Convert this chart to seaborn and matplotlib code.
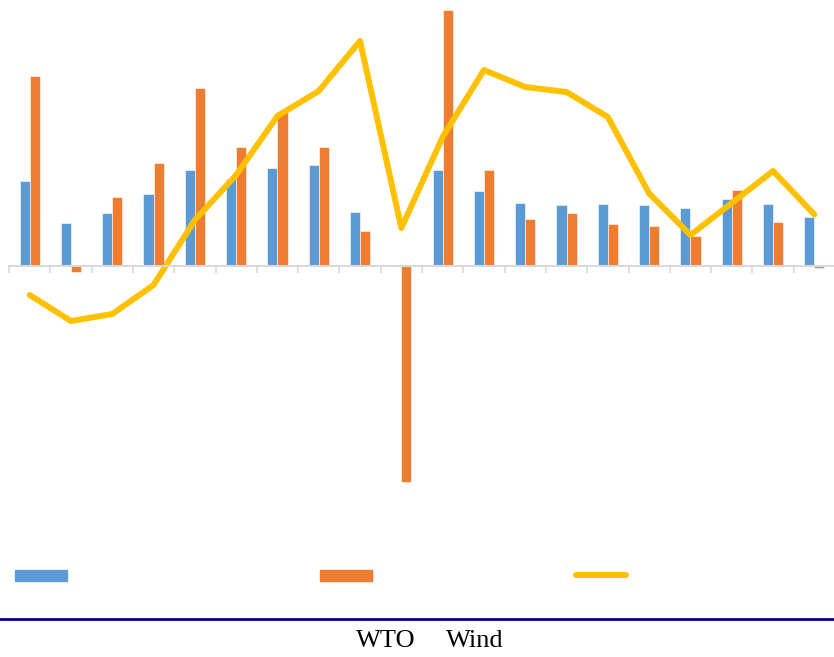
import numpy as np
import pandas as pd
import matplotlib
matplotlib.use("Agg")
import matplotlib.pyplot as plt
from matplotlib.patches import Rectangle
from matplotlib.lines import Line2D
import seaborn as sns

# data (units are arbitrary, baseline = 0)
categories = [str(i) for i in range(1, 21)]
blue_vals = [85, 43.5, 53.5, 72, 96.5, 87, 98.5, 101, 54, 0,
             96, 75, 63, 61, 62.5, 61, 58, 67.5, 62, 49]
orange_vals = [190, -6, 69, 103, 178, 119, 154.5, 119, 35, -215.5,
               256.5, 96, 47.5, 53, 42, 40.5, 30, 76, 44, -2]
line_vals = [-29, -55, -48, -19, 46, 91, 150, 175, 225, 38,
             129, 196, 179, 174, 149, 72.5, 31, 63, 95, 51.5]

blue = "#5B9BD5"
orange = "#ED7D31"
yellow = "#FFC000"

df = pd.DataFrame({
    "cat": categories * 2,
    "value": blue_vals + orange_vals,
    "series": ["a"] * 20 + ["b"] * 20,
})

sns.set_style("white")
fig = plt.figure(figsize=(8.34, 6.57), dpi=100)
W, H = 834, 657
# axes placed in pixel terms: x 9..835, y 5..530 (from top)
ax = fig.add_axes([9 / W, 1 - 530 / H, 826 / W, 525 / H])

sns.barplot(data=df, x="cat", y="value", hue="series", order=categories,
            palette=[blue, orange], saturation=1, width=0.49, gap=0,
            legend=False, edgecolor="white", linewidth=0.4, ax=ax)
sns.lineplot(x=np.arange(20), y=line_vals, color=yellow, linewidth=4.3,
             ax=ax, solid_capstyle="round", solid_joinstyle="round")

ax.set_xlim(-0.5, 19.5)
ax.set_ylim(-264, 261)
for s in ["top", "left", "right"]:
    ax.spines[s].set_visible(False)
ax.spines["bottom"].set_position(("data", 0))
ax.spines["bottom"].set_color("#d9d9d9")
ax.spines["bottom"].set_linewidth(1.5)
ax.set_xticks(np.arange(-0.5, 19.5, 1))
ax.tick_params(axis="x", bottom=True, direction="out", length=5, width=1.2,
               color="#d9d9d9", labelbottom=False)
ax.set_yticks([])
ax.set_xlabel("")
ax.set_ylabel("")
ax.patch.set_alpha(0)

# legend swatches (labels are empty in the reference)
def fx(px):
    return px / W

def fy(py):
    return 1 - py / H

fig.add_artist(Rectangle((fx(15), fy(581)), 52 / W, 11 / H, color=blue,
                         transform=fig.transFigure))
fig.add_artist(Rectangle((fx(320), fy(581)), 52 / W, 11 / H, color=orange,
                         transform=fig.transFigure))
fig.add_artist(Line2D([fx(576), fx(626)], [fy(575), fy(575)], color=yellow,
                      linewidth=4.3, solid_capstyle="round",
                      transform=fig.transFigure))

# navy rule and caption
fig.add_artist(Line2D([0, 1], [fy(619), fy(619)], color="#000080",
                      linewidth=2, transform=fig.transFigure))
fig.text(fx(416), fy(641), "WTO", ha="right", va="center", color="black",
         family="Liberation Serif", fontsize=19)
fig.text(fx(446), fy(641), "Wind", ha="left", va="center", color="black",
         family="Liberation Serif", fontsize=19)

fig.savefig("out.png", dpi=100)
